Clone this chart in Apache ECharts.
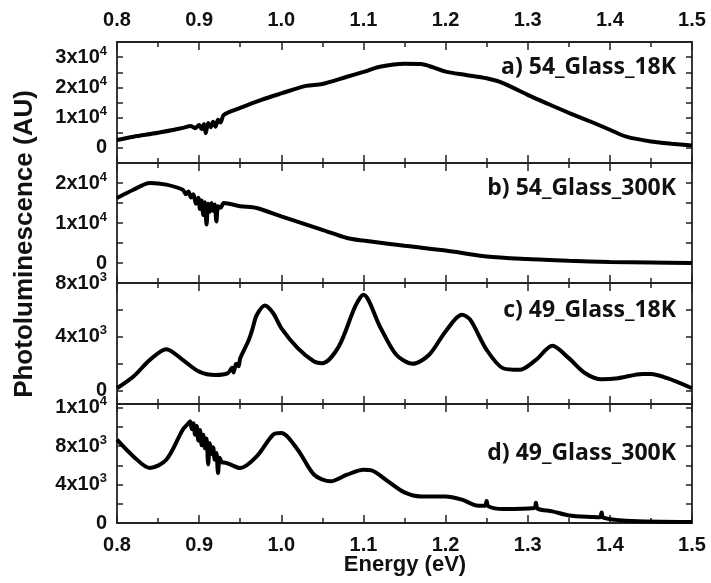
<!DOCTYPE html>
<html>
<head>
<meta charset="utf-8">
<script src="https://cdn.jsdelivr.net/npm/echarts@6/dist/echarts.min.js"></script>
<style>
  html, body { margin: 0; padding: 0; background: #fff; }
  #main { width: 711px; height: 583px; }
</style>
</head>
<body>
<div id="main"></div>
<script>
// a) 54_Glass_18K
var energyA = [0.80, 0.82, 0.85, 0.88, 0.89, 0.895, 0.90, 0.903, 0.906, 0.908, 0.911, 0.914, 0.917, 0.92, 0.923, 0.926, 0.93,
  0.95, 0.975, 1.00, 1.03, 1.05, 1.08, 1.10, 1.12, 1.15, 1.17, 1.185, 1.20, 1.225, 1.25, 1.27, 1.30,
  1.325, 1.35, 1.38, 1.40, 1.42, 1.45, 1.475, 1.50];
var intensityA = [2600, 3700, 5000, 6600, 7200, 6500, 7600, 6200, 7900, 4800, 8200, 6800, 8600, 7000, 9300, 8400, 10900,
  13200, 15800, 18000, 20500, 21100, 23500, 25100, 26800, 27800, 27700, 26600, 25200, 24100, 23000, 21400, 17500,
  14500, 11600, 8300, 6000, 3700, 2100, 1400, 800];

// b) 54_Glass_300K
var energyB = [0.80, 0.82, 0.84, 0.86, 0.88, 0.884, 0.887, 0.89, 0.893, 0.896, 0.899, 0.901, 0.903, 0.905, 0.907,
  0.909, 0.911, 0.913, 0.915, 0.917, 0.919, 0.921, 0.923, 0.926, 0.93,
  0.95, 0.97, 1.00, 1.05, 1.08, 1.10, 1.15, 1.20, 1.25, 1.30, 1.35, 1.40, 1.45, 1.50];
var intensityB = [16250, 18300, 20000, 19600, 18300, 17200, 17900, 16400, 17200, 14800, 16300, 13500, 15600, 12000, 15200,
  9600, 14800, 12800, 15000, 13000, 14600, 10400, 14200, 13800, 15000,
  14200, 13750, 11650, 8300, 6250, 5600, 4300, 3100, 1650, 1000, 575, 250, 100, 0];

// c) 49_Glass_18K
var energyC = [0.80, 0.82, 0.84, 0.86, 0.88, 0.90, 0.92, 0.935, 0.94, 0.942, 0.945, 0.948, 0.95, 0.96, 0.965, 0.97, 0.98, 0.99,
  1.00, 1.02, 1.04, 1.05, 1.07, 1.09, 1.10, 1.12, 1.14, 1.16, 1.18, 1.20, 1.22, 1.23, 1.25,
  1.27, 1.29, 1.31, 1.33, 1.35, 1.37, 1.39, 1.41, 1.44, 1.45, 1.47, 1.50];
var intensityC = [170, 1040, 2280, 3080, 2280, 1410, 1160, 1300, 1700, 1350, 2000, 1800, 2400, 3700, 4600, 5600, 6330, 5770,
  4650, 3160, 2160, 2040, 3280, 6260, 7130, 4770, 2660, 1990, 2660, 4400, 5640, 5270, 3030,
  1660, 1540, 2280, 3330, 2410, 1290, 840, 920, 1240, 1240, 920, 170];

// d) 49_Glass_300K
var energyD = [0.80, 0.82, 0.84, 0.86, 0.88, 0.886, 0.889, 0.891, 0.893, 0.895, 0.897, 0.899, 0.901, 0.903, 0.905,
  0.907, 0.909, 0.911, 0.913, 0.915, 0.917, 0.919, 0.921, 0.923, 0.925, 0.928, 0.93,
  0.95, 0.97, 0.99, 1.00, 1.02, 1.04, 1.06, 1.08, 1.10, 1.11, 1.13, 1.15, 1.17,
  1.20, 1.22, 1.24, 1.248, 1.25, 1.252, 1.27, 1.308, 1.31, 1.312, 1.33, 1.35, 1.38, 1.388, 1.39, 1.392, 1.42, 1.50];
var intensityD = [8680, 6940, 5730, 6590, 9720, 10300, 10600, 9800, 10400, 9200, 10100, 8600, 9700, 8100, 9200,
  7800, 8800, 6100, 8300, 7200, 7900, 6600, 7300, 5200, 6800, 6300, 6300,
  5730, 6940, 9200, 9370, 7640, 5030, 4340, 5030, 5550, 5480, 4340, 3190, 2770,
  2770, 2430, 1800, 1800, 2300, 1750, 1460, 1560, 2100, 1500, 1210, 790, 620, 600, 1100, 550, 240, 100];

var panelNames = ['a) 54_Glass_18K', 'b) 54_Glass_300K', 'c) 49_Glass_18K', 'd) 49_Glass_300K'];

// y ranges, tick values and labels per panel
var yMin = [-5000, -5000, -1000, 0];
var yMax = [35000, 25000, 8000, 12400];
var yTicks = [
  [0, 5000, 10000, 15000, 20000, 25000, 30000],
  [0, 5000, 10000, 15000, 20000],
  [0, 2000, 4000, 6000, 8000],
  [0, 2000, 4000, 6000, 8000, 10000, 12000]
];
var yLabelValues = [
  [0, 10000, 20000, 30000],
  [0, 10000, 20000],
  [0, 4000, 8000],
  [0, 4000, 8000, 12000]
];
var yLabelTexts = [
  ['0', '1x10^4', '2x10^4', '3x10^4'],
  ['0', '1x10^4', '2x10^4'],
  ['0', '4x10^3', '8x10^3'],
  ['0', '4x10^3', '8x10^3', '1x10^4']
];

var panelData = [[energyA, intensityA], [energyB, intensityB], [energyC, intensityC], [energyD, intensityD]];
var gridTops = [42, 163, 283, 404];
var gridHeights = [121, 120, 121, 119];
var labelY = [67, 188, 310, 453];

function toRich(s) {
  var p = s.split('^');
  if (p.length < 2) return '{m|' + s + '}';
  return '{m|' + p[0] + '}{e|' + p[1] + '}';
}

var axisColor = '#222';
var labelFont = { fontFamily: 'Liberation Sans', fontWeight: 'bold', fontSize: 20, color: '#111' };

var grids = [], xAxes = [], yAxes = [], series = [], graphics = [];

for (var i = 0; i < 4; i++) {
  grids.push({ left: 117, right: 19, top: gridTops[i], height: gridHeights[i], containLabel: false });

  ['bottom', 'top'].forEach(function (pos) {
    var showLab = (pos === 'bottom' && i === 3) || (pos === 'top' && i === 0);
    xAxes.push({
      type: 'value', gridIndex: i, position: pos, min: 0.8, max: 1.5, interval: 0.1,
      axisLine: { show: true, onZero: false, lineStyle: { color: axisColor, width: 1.8 } },
      axisTick: { show: true, inside: true, length: 8, lineStyle: { color: axisColor, width: 1.5 } },
      minorTick: { show: true, splitNumber: 2, length: 5, lineStyle: { color: axisColor, width: 1.5 } },
      splitLine: { show: false },
      axisLabel: Object.assign({ show: showLab, margin: 12, formatter: function (v) { return v.toFixed(1); } }, labelFont)
    });
  });

  (function (k) {
    var labMap = {};
    yLabelValues[k].forEach(function (v, j) { labMap[v] = yLabelTexts[k][j]; });
    ['left', 'right'].forEach(function (pos) {
      yAxes.push({
        type: 'value', gridIndex: k, position: pos, min: yMin[k], max: yMax[k],
        axisLine: { show: true, onZero: false, lineStyle: { color: axisColor, width: 1.8 } },
        axisTick: { show: true, inside: true, length: 6, customValues: yTicks[k], lineStyle: { color: axisColor, width: 1.5 } },
        splitLine: { show: false },
        axisLabel: {
          show: pos === 'left', margin: 10, customValues: yLabelValues[k],
          formatter: function (v) { return toRich(labMap[v] || ''); },
          rich: {
            m: { fontFamily: 'Liberation Sans', fontWeight: 'bold', fontSize: 20, color: '#111' },
            e: { fontFamily: 'Liberation Sans', fontWeight: 'bold', fontSize: 13, color: '#111', verticalAlign: 'top', padding: [0, 0, 12, 0] }
          }
        }
      });
    });
  })(i);

  series.push({
    type: 'line', xAxisIndex: 2 * i, yAxisIndex: 2 * i,
    data: panelData[i][0].map(function (e, j) { return [e, panelData[i][1][j]]; }),
    showSymbol: false, smooth: 0.3,
    lineStyle: { color: '#000', width: 4 }, itemStyle: { color: '#000' }
  });

  graphics.push({
    type: 'text', x: 676, y: labelY[i],
    style: { text: panelNames[i], font: 'bold 23px "Open Sans"', fill: '#111', textAlign: 'right', textVerticalAlign: 'middle' }
  });
}

graphics.push({
  type: 'text', x: 25, y: 244, rotation: Math.PI / 2,
  style: { text: 'Photoluminescence (AU)', font: 'bold 26px "Liberation Sans"', fill: '#111', textAlign: 'center', textVerticalAlign: 'middle' }
});
graphics.push({
  type: 'text', x: 405, y: 565,
  style: { text: 'Energy (eV)', font: 'bold 22px "Liberation Sans"', fill: '#111', textAlign: 'center', textVerticalAlign: 'middle' }
});

var myChart = echarts.init(document.getElementById('main'));
myChart.setOption({
  backgroundColor: '#fff',
  animation: false,
  grid: grids,
  xAxis: xAxes,
  yAxis: yAxes,
  series: series,
  graphic: graphics
});
</script>
</body>
</html>
